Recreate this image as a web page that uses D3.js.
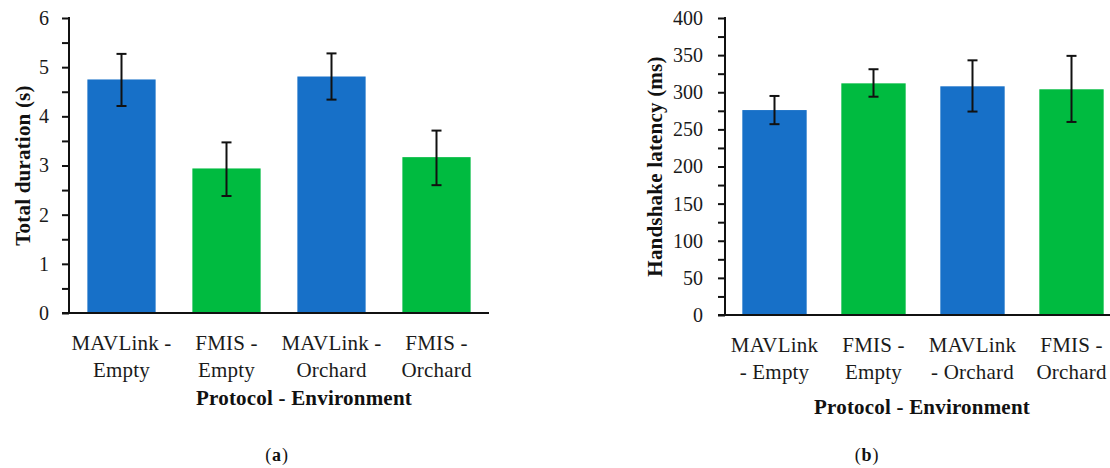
<!DOCTYPE html>
<meta charset="utf-8">
<title>Total duration and handshake latency</title>
<style>
body {
  margin: 0px;
  background: white;
  font-family: "Liberation Serif", serif;
}
.tick text {
  font-size: 20px;
  fill: #1a1a1a;
}
.cat {
  font-size: 21px;
  letter-spacing: 0.2px;
  fill: #1a1a1a;
}
.ttl {
  font-size: 21px;
  font-weight: bold;
  letter-spacing: 0.2px;
  fill: #111;
}
.cap {
  font-size: 18px;
  letter-spacing: 0.8px;
  fill: #111;
}
</style>
<body>
<svg id="chart" width="1110" height="468"></svg>
</body>

<script src="https://cdn.jsdelivr.net/npm/d3@7"></script>
<script type="text/javascript">

// data
var colors = ["#1770C8", "#00BB40", "#1770C8", "#00BB40"];

var catsA = [["MAVLink -", "Empty"], ["FMIS -", "Empty"], ["MAVLink -", "Orchard"], ["FMIS -", "Orchard"]];
var durMean = [4.75, 2.94, 4.81, 3.17];
var durLow  = [4.21, 2.38, 4.34, 2.60];
var durHigh = [5.27, 3.47, 5.28, 3.71];

var catsB = [["MAVLink", "- Empty"], ["FMIS -", "Empty"], ["MAVLink", "- Orchard"], ["FMIS -", "Orchard"]];
var latMean = [276, 312, 308, 304];
var latLow  = [257, 294, 274, 260];
var latHigh = [295, 331, 343, 349];

var svg = d3.select("#chart");

function drawPanel(opt) {
  var g = svg.append("g");
  var idx = d3.range(opt.mean.length);

  var x = d3.scaleBand()
      .domain(idx)
      .range([opt.left, opt.right])
      .paddingInner(0.35)
      .paddingOuter(0.175);
  var y = d3.scaleLinear()
      .domain([0, opt.max])
      .range([opt.bottom, opt.top]);

  // bars
  g.selectAll("rect.bar")
    .data(idx)
    .enter().append("rect")
    .attr("class", "bar")
    .attr("x", function(i) { return x(i); })
    .attr("width", x.bandwidth())
    .attr("y", function(i) { return y(opt.mean[i]); })
    .attr("height", function(i) { return y(0) - y(opt.mean[i]); })
    .style("fill", function(i) { return colors[i]; });

  // error bars
  var cap = 5;
  var eb = g.selectAll("g.err").data(idx).enter().append("g")
    .attr("class", "err")
    .style("stroke", "#111")
    .style("stroke-width", 2);
  eb.append("line")
    .attr("x1", function(i) { return x(i) + x.bandwidth() / 2; })
    .attr("x2", function(i) { return x(i) + x.bandwidth() / 2; })
    .attr("y1", function(i) { return y(opt.low[i]); })
    .attr("y2", function(i) { return y(opt.high[i]); });
  eb.append("line")
    .attr("x1", function(i) { return x(i) + x.bandwidth() / 2 - cap; })
    .attr("x2", function(i) { return x(i) + x.bandwidth() / 2 + cap; })
    .attr("y1", function(i) { return y(opt.low[i]); })
    .attr("y2", function(i) { return y(opt.low[i]); });
  eb.append("line")
    .attr("x1", function(i) { return x(i) + x.bandwidth() / 2 - cap; })
    .attr("x2", function(i) { return x(i) + x.bandwidth() / 2 + cap; })
    .attr("y1", function(i) { return y(opt.high[i]); })
    .attr("y2", function(i) { return y(opt.high[i]); });

  // y axis, ticks every half step, labels on the majors only
  var yAxis = d3.axisLeft(y)
      .tickValues(d3.range(0, opt.max + opt.minor / 2, opt.minor))
      .tickSize(7)
      .tickPadding(opt.pad)
      .tickFormat(function(d) { return Math.round(d / opt.minor) % 2 == 0 ? d3.format("d")(d) : ""; });
  var ya = g.append("g")
      .attr("transform", "translate(" + opt.left + ",0)")
      .call(yAxis);
  ya.select(".domain").remove();
  ya.selectAll(".tick line").style("stroke", "#111").style("stroke-width", 2);
  ya.attr("font-family", null).attr("font-size", null);

  g.append("line")
    .attr("x1", opt.left).attr("x2", opt.left)
    .attr("y1", y(opt.max) - 1).attr("y2", y(0))
    .style("stroke", "#111").style("stroke-width", 2);
  g.append("line")
    .attr("x1", opt.left - 7).attr("x2", opt.right)
    .attr("y1", y(0)).attr("y2", y(0))
    .style("stroke", "#111").style("stroke-width", 2);

  // category labels, two lines each
  var lab = g.selectAll("text.cat").data(idx).enter().append("text")
    .attr("class", "cat")
    .attr("text-anchor", "middle");
  lab.each(function(i) {
    var t = d3.select(this);
    opt.cats[i].forEach(function(s, k) {
      t.append("tspan")
        .attr("x", x(i) + x.bandwidth() / 2)
        .attr("y", opt.catY + k * 27)
        .text(s);
    });
  });

  g.append("text")
    .attr("class", "ttl")
    .attr("text-anchor", "middle")
    .attr("x", opt.xTitleX)
    .attr("y", opt.xTitleY)
    .text("Protocol - Environment");

  g.append("text")
    .attr("class", "ttl")
    .attr("text-anchor", "middle")
    .attr("dominant-baseline", "central")
    .attr("transform", "translate(" + opt.yTitleX + "," + (opt.top + opt.bottom) / 2 + ") rotate(-90)")
    .text(opt.yTitle);

  var cap2 = g.append("text")
    .attr("class", "cap")
    .attr("text-anchor", "middle")
    .attr("x", opt.capX)
    .attr("y", 461);
  cap2.append("tspan").text("(");
  cap2.append("tspan").style("font-weight", "bold").text(opt.capLetter);
  cap2.append("tspan").text(")");
}

drawPanel({
  cats: catsA, mean: durMean, low: durLow, high: durHigh,
  max: 6, minor: 0.5, pad: 13,
  left: 69, right: 489, top: 18, bottom: 313,
  catY: 350, xTitleX: 304, xTitleY: 405,
  yTitle: "Total duration (s)", yTitleX: 23,
  capX: 277, capLetter: "a"
});

drawPanel({
  cats: catsB, mean: latMean, low: latLow, high: latHigh,
  max: 400, minor: 25, pad: 15,
  left: 725, right: 1121, top: 18, bottom: 315,
  catY: 352, xTitleX: 922, xTitleY: 414,
  yTitle: "Handshake latency (ms)", yTitleX: 655,
  capX: 867, capLetter: "b"
});

</script>
